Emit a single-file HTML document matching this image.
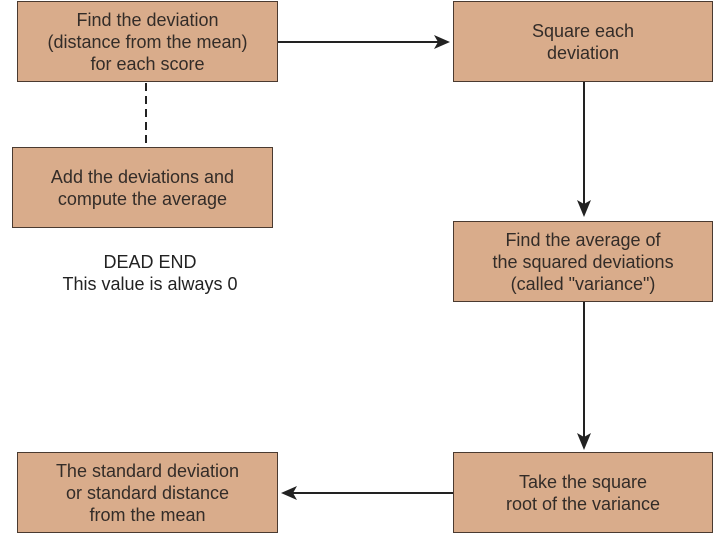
<!DOCTYPE html>
<html><head><meta charset="utf-8"><style>
html,body{margin:0;padding:0;background:#fff;}
body{width:720px;height:540px;position:relative;overflow:hidden;font-family:"Liberation Sans",sans-serif;}
.b{position:absolute;background:#d9ac8b;border:1.5px solid #4a3a30;box-sizing:border-box;display:flex;align-items:center;justify-content:center;text-align:center;color:#332c28;font-size:18px;line-height:22px;}
.t{position:absolute;text-align:center;color:#222;font-size:18px;line-height:22px;}
svg{position:absolute;left:0;top:0;}
</style></head><body>
<div class="b" style="left:17px;top:1px;width:261px;height:81px;">Find the deviation<br>(distance from the mean)<br>for each score</div>
<div class="b" style="left:453px;top:1px;width:260px;height:81px;">Square each<br>deviation</div>
<div class="b" style="left:12px;top:147px;width:261px;height:81px;">Add the deviations and<br>compute the average</div>
<div class="b" style="left:453px;top:221px;width:260px;height:81px;">Find the average of<br>the squared deviations<br>(called "variance")</div>
<div class="b" style="left:17px;top:452px;width:261px;height:81px;">The standard deviation<br>or standard distance<br>from the mean</div>
<div class="b" style="left:453px;top:452px;width:260px;height:81px;">Take the square<br>root of the variance</div>
<div class="t" style="left:30px;top:251px;width:240px;">DEAD END<br>This value is always 0</div>
<svg width="720" height="540">
<g stroke="#222" stroke-width="2" fill="none">
<line x1="278" y1="42" x2="440" y2="42"/>
<line x1="146" y1="83" x2="146" y2="147" stroke-dasharray="8,5"/>
<line x1="584" y1="82" x2="584" y2="205"/>
<line x1="584" y1="302" x2="584" y2="438"/>
<line x1="453" y1="493" x2="292" y2="493"/>
</g>
<g fill="#222">
<polygon points="450,42 434,35 438,42 434,49"/>
<polygon points="584,217 577,200 584,204 591,200"/>
<polygon points="584,450 577,433 584,437 591,433"/>
<polygon points="281,493 297,486 293,493 297,500"/>
</g>
</svg>
</body></html>
